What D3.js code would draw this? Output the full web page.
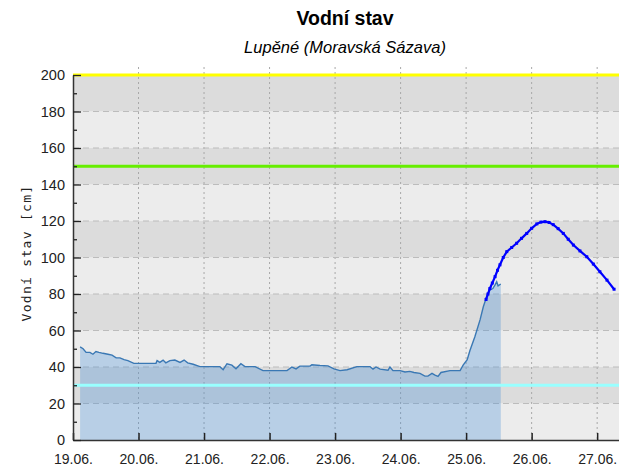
<!DOCTYPE html>
<html>
<head>
<meta charset="utf-8">
<script src="https://cdn.jsdelivr.net/npm/d3@7"></script>
<style>
  body { margin: 0; background: #fff; }
  svg text { font-family: "Liberation Sans", Arial, sans-serif; }
</style>
</head>
<body>
<div id="chart"></div>
<script>
const svgWidth = 619;
const svgHeight = 470;

// hours since 19.06. 00:00
const obsHours = [2.6, 3.7, 4.8, 6.2, 7.3, 8.4, 9.5, 11, 12.8, 14.3, 15.8, 17.2, 18.7, 20.1, 22.3, 24.5, 27.5, 30.4, 30.8, 31.8,
  33, 34, 35.5, 37.3, 39.2, 40.7, 42, 44, 46.5, 50.2, 53.8, 55, 56.4, 58.2, 59.7, 61.5, 63, 66.7, 69.6, 74, 78.4, 80.2, 81.7,
  83.1, 86.8, 87.5, 90.5, 93.4, 95.6, 97.8, 100.4, 104, 108.8, 109.9, 111, 112.5, 115.4, 116.1, 117.2, 119.8, 121.6, 123.4,
  124.9, 127.1, 128.9, 130, 131.5, 132.6, 133.7, 134.8, 138.1, 141.8, 142.9, 144.4, 145.4, 147.2, 149.1, 150.3, 151.5, 152.7,
  153.8, 154.6, 155.2, 155.7, 156.7];
const obsValues = [51, 50, 48, 48, 47, 48.5, 48, 47.5, 47, 46.5, 45, 45, 44, 43.5, 42, 42, 42, 42, 43.5, 42.5,
  43.8, 42.3, 43.5, 43.8, 42.5, 43.8, 42.3, 41.5, 40.2, 40.2, 40.2, 38.5, 41.8, 41, 39, 41.8, 40.2, 40.2, 38, 38, 38, 40, 39,
  40.5, 40.5, 41.2, 40.8, 40.6, 39, 38, 38.5, 40.2, 40.2, 38.8, 40, 38.8, 38.2, 40, 38, 38, 37.3, 37.6,
  37, 36.5, 35, 35, 36.5, 35.5, 34.8, 37, 38, 38, 41, 44, 49, 56.6, 65.8, 73, 78.5, 82.2,
  83, 85, 86.7, 84.5, 85.5];

const fcHours = [151.3, 152, 152.7, 153.6, 154.6, 155.5, 156.4, 157.6, 158.9, 160.7, 162.5, 164.3, 166.2, 168, 169.9, 171.4,
  172.9, 174.4, 175.9, 177.7, 179.6, 181.4, 183.3, 185.7, 188.2, 190.6, 193, 195.6, 198.2];
const fcValues = [77, 80, 83, 86, 89.5, 93, 96, 100, 103.2, 105.5, 107.8, 110.5, 113.2, 116, 118.4, 119.4,
  119.6, 119.2, 118, 115.8, 113.2, 110, 106.8, 103.6, 100.4, 96.4, 92.2, 87.6, 82.6];

const dayLabels = ['19.06.', '20.06.', '21.06.', '22.06.', '23.06.', '24.06.', '25.06.', '26.06.', '27.06.'];
const yTicks = [0, 20, 40, 60, 80, 100, 120, 140, 160, 180, 200];
const limits = [200, 150, 30];
const limitColors = ['#ffff00', '#66ee00', '#99ffff'];

const margin = {top: 67, right: 0, bottom: 30, left: 73};
const base = new Date(2020, 5, 19, 0, 0);
const toDate = h => new Date(base.getTime() + h * 3600 * 1000);

const svg = d3.select('#chart')
  .append('svg')
  .attr('width', svgWidth)
  .attr('height', svgHeight);

const x = d3.scaleTime()
  .domain([base, toDate(200)])
  .range([margin.left, svgWidth]);

const y = d3.scaleLinear()
  .domain([0, 200])
  .range([440, 75]);

// alternating bands
svg.append('g')
  .selectAll('rect')
  .data(yTicks.slice(0, -1))
  .enter()
  .append('rect')
  .attr('x', margin.left)
  .attr('width', svgWidth - margin.left)
  .attr('y', d => y(d + 20))
  .attr('height', d => y(d) - y(d + 20))
  .attr('fill', (d, i) => i % 2 === 0 ? '#ececec' : '#dcdcdc');

// grid
const days = dayLabels.map((d, i) => toDate(i * 24));
svg.append('g')
  .selectAll('line')
  .data(days.slice(1))
  .enter()
  .append('line')
  .attr('x1', d => x(d)).attr('x2', d => x(d))
  .attr('y1', margin.top).attr('y2', 440)
  .attr('stroke', '#a8a8a8')
  .attr('stroke-dasharray', '2,3');

svg.append('g')
  .selectAll('line')
  .data(yTicks.slice(1, -1))
  .enter()
  .append('line')
  .attr('x1', margin.left).attr('x2', svgWidth)
  .attr('y1', d => y(d)).attr('y2', d => y(d))
  .attr('stroke', '#bcbcbc')
  .attr('stroke-dasharray', '6,4');

// observed area + line
const obs = obsHours.map((h, i) => ({t: toDate(h), v: obsValues[i]}));
svg.append('path')
  .datum(obs)
  .attr('fill', 'rgb(63,139,216)')
  .attr('fill-opacity', 0.3)
  .attr('d', d3.area().x(d => x(d.t)).y0(y(0)).y1(d => y(d.v)));

svg.append('path')
  .datum(obs)
  .attr('fill', 'none')
  .attr('stroke', '#3a78b4')
  .attr('stroke-width', 1.4)
  .attr('d', d3.line().x(d => x(d.t)).y(d => y(d.v)));

// limit lines
svg.append('g')
  .selectAll('line')
  .data(limits)
  .enter()
  .append('line')
  .attr('x1', margin.left).attr('x2', svgWidth)
  .attr('y1', d => y(d)).attr('y2', d => y(d))
  .attr('stroke', (d, i) => limitColors[i])
  .attr('stroke-width', 3);

// forecast
const fc = fcHours.map((h, i) => ({t: toDate(h), v: fcValues[i]}));
svg.append('path')
  .datum(fc)
  .attr('fill', 'none')
  .attr('stroke', '#0000ff')
  .attr('stroke-width', 2.2)
  .attr('d', d3.line().x(d => x(d.t)).y(d => y(d.v)));

svg.append('g')
  .selectAll('rect')
  .data(fc)
  .enter()
  .append('rect')
  .attr('x', d => x(d.t) - 1.5)
  .attr('y', d => y(d.v) - 1.5)
  .attr('width', 3).attr('height', 3)
  .attr('fill', '#0000ff');

// axes
const xAxis = d3.axisBottom(x)
  .tickValues(days)
  .tickFormat((d, i) => dayLabels[i])
  .tickSizeInner(-7)
  .tickSizeOuter(0)
  .tickPadding(14);

svg.append('g')
  .attr('transform', 'translate(0,440)')
  .call(xAxis)
  .call(g => g.select('.domain').attr('stroke', '#333').attr('stroke-width', 1.5))
  .call(g => g.selectAll('.tick line').attr('stroke', '#222').attr('stroke-width', 1.5))
  .call(g => g.selectAll('text').attr('font-size', '14px').attr('fill', '#222'));

const yAxisMinor = d3.axisLeft(y)
  .tickValues(d3.range(10, 200, 20))
  .tickSizeInner(-4)
  .tickSizeOuter(0)
  .tickFormat('');

svg.append('g')
  .attr('transform', `translate(${margin.left},0)`)
  .call(yAxisMinor)
  .call(g => g.select('.domain').remove())
  .call(g => g.selectAll('.tick line').attr('stroke', '#222').attr('stroke-width', 1.3));

const yAxis = d3.axisLeft(y)
  .tickValues(yTicks)
  .tickSizeInner(-8)
  .tickSizeOuter(0)
  .tickPadding(8);

svg.append('g')
  .attr('transform', `translate(${margin.left},0)`)
  .call(yAxis)
  .call(g => g.select('.domain').attr('stroke', '#333').attr('stroke-width', 1.5))
  .call(g => g.selectAll('.tick line').attr('stroke', '#222').attr('stroke-width', 1.3))
  .call(g => g.selectAll('text').attr('font-size', '14.5px').attr('fill', '#222'));

// titles
svg.append('text')
  .attr('x', 345).attr('y', 25)
  .style('text-anchor', 'middle')
  .style('font-weight', 'bold')
  .style('font-size', '19.5px')
  .text('Vodní stav');

svg.append('text')
  .attr('x', 345).attr('y', 53)
  .style('text-anchor', 'middle')
  .style('font-style', 'italic')
  .style('font-size', '16.5px')
  .text('Lupěné (Moravská Sázava)');

svg.append('text')
  .attr('transform', 'translate(31,253) rotate(-90)')
  .style('text-anchor', 'middle')
  .style('font-family', '"DejaVu Sans Mono", monospace')
  .style('font-size', '13px')
  .style('letter-spacing', '1.3px')
  .attr('fill', '#222')
  .text('Vodní stav [cm]');
</script>
</body>
</html>
